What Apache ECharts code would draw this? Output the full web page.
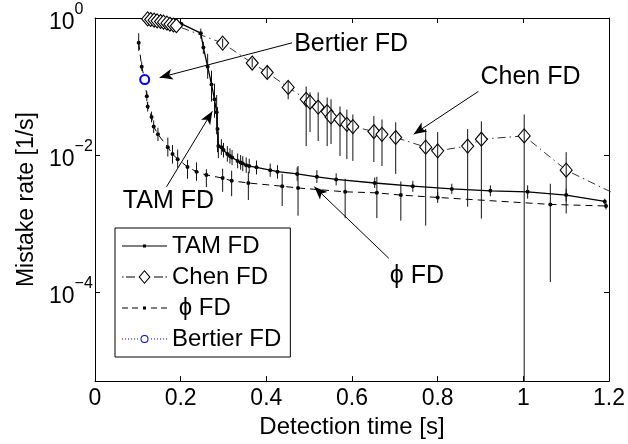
<!DOCTYPE html>
<html>
<head>
<meta charset="utf-8">
<script src="https://cdn.jsdelivr.net/npm/echarts@6.0.0/dist/echarts.min.js"></script>
<style>
  html, body { margin: 0; padding: 0; background: #fff; }
  #chart { width: 628px; height: 444px; }
</style>
</head>
<body>
<div id="chart"></div>
<script>
var FONT = 'Liberation Sans, Arial, sans-serif';
var yMin = 5e-6, yMax = 1;
var yTicks = [1e-4, 1e-2, 1];

// TAM FD: detection time, mistake rate, error bar low / high
var tamX  = [0.202, 0.247, 0.253, 0.263, 0.272, 0.279, 0.284, 0.286, 0.288, 0.295, 0.300, 0.309, 0.315, 0.320, 0.333, 0.340, 0.345, 0.353, 0.360, 0.377, 0.409, 0.426, 0.472, 0.518, 0.563, 0.653, 0.742, 0.833, 0.923, 1.010, 1.100, 1.190];
var tamY  = [0.82, 0.60, 0.37, 0.195, 0.107, 0.065, 0.042, 0.024, 0.0135, 0.013, 0.0118, 0.0103, 0.0097, 0.0092, 0.0082, 0.0078, 0.0075, 0.0071, 0.0069, 0.0066, 0.0060, 0.0057, 0.0053, 0.0048, 0.0044, 0.0039, 0.0035, 0.0032, 0.0030, 0.0029, 0.0026, 0.0021];
var tamLo = [null, 0.50, 0.30, 0.13, 0.06, 0.035, 0.020, 0.011, 0.009, 0.010, 0.0092, 0.0080, 0.0075, 0.0071, 0.0064, 0.0061, 0.0058, 0.0055, 0.0054, 0.0052, 0.0048, 0.0045, 0.0042, 0.0039, 0.0036, 0.0033, 0.0029, 0.0027, 0.0025, 0.0023, 0.0021, 0.0019];
var tamHi = [null, 0.70, 0.45, 0.30, 0.17, 0.11, 0.075, 0.050, 0.022, 0.017, 0.0150, 0.0135, 0.0125, 0.0118, 0.0105, 0.0100, 0.0096, 0.0092, 0.0088, 0.0083, 0.0075, 0.0071, 0.0066, 0.0060, 0.0054, 0.0047, 0.0042, 0.0038, 0.0036, 0.0036, 0.0032, 0.0023];

// Chen FD
var chenX  = [0.123, 0.130, 0.138, 0.145, 0.153, 0.160, 0.168, 0.175, 0.183, 0.190, 0.298, 0.367, 0.402, 0.451, 0.493, 0.502, 0.521, 0.542, 0.551, 0.572, 0.588, 0.602, 0.651, 0.670, 0.702, 0.772, 0.800, 0.870, 0.902, 1.002, 1.100, 1.250];
var chenY  = [0.97, 0.95, 0.93, 0.91, 0.89, 0.87, 0.84, 0.81, 0.79, 0.77, 0.43, 0.22, 0.16, 0.097, 0.065, 0.059, 0.050, 0.043, 0.036, 0.033, 0.028, 0.026, 0.022, 0.020, 0.018, 0.013, 0.0115, 0.0135, 0.017, 0.019, 0.006, 0.0021];
var chenLo = [null, null, null, null, null, null, null, null, null, null, 0.37, 0.19, 0.13, 0.065, 0.0135, 0.0216, 0.016, 0.0135, 0.0145, 0.0097, 0.0087, 0.0082, 0.0079, 0.0069, 0.0053, 0.00093, 0.0022, 0.00176, 0.00118, 1e-9, 0.0014, null];
var chenHi = [null, null, null, null, null, null, null, null, null, null, 0.50, 0.26, 0.20, 0.12, 0.10, 0.082, 0.082, 0.069, 0.065, 0.051, 0.046, 0.039, 0.037, 0.033, 0.030, 0.024, 0.0216, 0.024, 0.031, 0.039, 0.011, null];

// phi FD
var phiX  = [0.102, 0.109, 0.116, 0.121, 0.123, 0.132, 0.137, 0.147, 0.170, 0.181, 0.193, 0.216, 0.237, 0.260, 0.298, 0.319, 0.358, 0.437, 0.474, 0.584, 0.658, 0.714, 0.800, 1.063, 1.193];
var phiY  = [0.435, 0.195, 0.126, 0.072, 0.051, 0.036, 0.026, 0.020, 0.013, 0.0103, 0.0087, 0.0067, 0.0057, 0.0051, 0.0046, 0.0042, 0.0039, 0.0035, 0.0033, 0.0029, 0.0028, 0.0026, 0.0024, 0.0019, 0.0018];
var phiLo = [0.33, 0.17, 0.11, 0.061, 0.043, 0.030, 0.021, 0.016, 0.0095, 0.0075, 0.0065, 0.0045, 0.0042, 0.0034, 0.0029, 0.0025, 0.0022, 0.0018, 0.0013, 0.0012, 0.0012, 0.0011, 0.0020, 0.00014, 0.0016];
var phiHi = [0.60, 0.23, 0.145, 0.085, 0.060, 0.043, 0.032, 0.025, 0.018, 0.014, 0.012, 0.0085, 0.0078, 0.0062, 0.0063, 0.0059, 0.0057, 0.0053, 0.0069, 0.0045, 0.0048, 0.0041, 0.0029, 0.0038, 0.0020];

// Bertier FD (single point)
var bertierX = [0.116];
var bertierY = [0.126];

// text annotations and their arrows (data coordinates)
var noteNames  = ['Bertier FD', 'Chen FD', 'TAM FD', 'ϕ FD'];
var noteAt     = [[0.465, 0.42], [0.900, 0.135], [0.065, 0.00215], [0.688, 1.7e-4]];
var arrowFrom  = [[0.460, 0.434], [0.895, 0.0847], [0.167, 0.00344], [0.686, 3.1e-4]];
var arrowTo    = [[0.151, 0.135], [0.744, 0.0201], [0.274, 0.0434], [0.512, 0.00344]];

function zip(a, b) {
    var out = [];
    for (var i = 0; i < a.length; i++) out.push([a[i], b[i]]);
    return out;
}
function errData(xs, lo, hi) {
    var out = [];
    for (var i = 0; i < xs.length; i++) {
        if (lo[i] != null) out.push([xs[i], lo[i], hi[i]]);
    }
    return out;
}
// plain vertical error bar, no caps
function renderErr(params, api) {
    var x = api.value(0);
    var lo = Math.max(api.value(1), yMin);
    var hi = Math.min(api.value(2), yMax);
    var p1 = api.coord([x, hi]);
    var p2 = api.coord([x, lo]);
    return {
        type: 'line',
        shape: { x1: p1[0], y1: p1[1], x2: p2[0], y2: p2[1] },
        style: { stroke: '#111', lineWidth: 1 }
    };
}
function errSeries(name, data) {
    return {
        name: name,
        type: 'custom',
        renderItem: renderErr,
        data: data,
        encode: { x: 0, y: [1, 2] },
        clip: true,
        silent: true,
        z: 3
    };
}

// legend icons (45 x 14 box)
function rect(x, y, w, h) {
    return 'M' + x + ' ' + y + 'h' + w + 'v' + h + 'h' + (-w) + 'Z';
}
var iconTam = 'path://' + rect(0, 6.4, 45, 1.2) + rect(21, 5.5, 3, 3);
var iconPhi = 'path://' + rect(0, 6.5, 6, 1) + rect(10, 6.5, 6, 1) + rect(21, 5.5, 3, 3) + rect(29, 6.5, 6, 1) + rect(39, 6.5, 6, 1);
var iconChen = 'path://' + rect(0, 6.5, 1.5, 1) + rect(4, 6.5, 9, 1) +
    'M22.5 0L28.5 7L22.5 14L16.5 7Z' + 'M22.5 1.6L17.9 7L22.5 12.4L27.1 7Z' +
    rect(32, 6.5, 9, 1) + rect(43.5, 6.5, 1.5, 1);
var iconBertier = 'path://';
for (var d = 0; d <= 15; d += 3) iconBertier += rect(d, 6.5, 1, 1);
iconBertier += 'M18.5 7a4 4 0 1 0 8 0a4 4 0 1 0 -8 0Z' + 'M19.5 7a3 3 0 1 1 6 0a3 3 0 1 1 -6 0Z';
for (var d2 = 29; d2 <= 44; d2 += 3) iconBertier += rect(d2, 6.5, 1, 1);

var chart = echarts.init(document.getElementById('chart'));

var notes = [];
var arrows = [];
for (var k = 0; k < noteNames.length; k++) {
    notes.push({ name: noteNames[k], coord: noteAt[k] });
    arrows.push([
        { coord: arrowFrom[k], symbol: 'none' },
        { coord: arrowTo[k], symbol: 'arrow', symbolSize: [8, 13] }
    ]);
}

var option = {
    animation: false,
    backgroundColor: '#fff',
    textStyle: { fontFamily: FONT },
    grid: { left: 95, right: 17, top: 18, bottom: 60, containLabel: false },
    legend: {
        orient: 'vertical',
        left: 115,
        top: 228,
        padding: [6, 9, 6, 7],
        itemGap: 7,
        itemWidth: 45,
        itemHeight: 14,
        selectedMode: false,
        backgroundColor: '#fff',
        borderColor: '#000',
        borderWidth: 1,
        textStyle: { fontSize: 24, color: '#000', fontFamily: FONT },
        formatter: function (name) { return name === 'ϕ FD' ? ' ϕ FD' : name; },
        data: [
            { name: 'TAM FD', icon: iconTam, itemStyle: { color: '#000', borderWidth: 0 } },
            { name: 'Chen FD', icon: iconChen, itemStyle: { color: '#000', borderWidth: 0 } },
            { name: 'ϕ FD', icon: iconPhi, itemStyle: { color: '#000', borderWidth: 0 } },
            { name: 'Bertier FD', icon: iconBertier, itemStyle: { color: '#0000ff', borderWidth: 0 } }
        ]
    },
    xAxis: [{
        type: 'value',
        min: 0,
        max: 1.2,
        interval: 0.2,
        position: 'bottom',
        name: 'Detection time [s]',
        nameLocation: 'middle',
        nameGap: 28,
        nameTextStyle: { fontSize: 24, color: '#000', fontFamily: FONT },
        axisLine: { onZero: false, lineStyle: { color: '#000', width: 1 } },
        axisTick: { inside: true, length: 5, lineStyle: { color: '#000' } },
        axisLabel: { fontSize: 23, color: '#000', margin: 6, fontFamily: FONT },
        splitLine: { show: false }
    }, {
        type: 'value',
        min: 0,
        max: 1.2,
        interval: 0.2,
        position: 'top',
        axisLine: { onZero: false, lineStyle: { color: '#000', width: 1 } },
        axisTick: { inside: true, length: 5, lineStyle: { color: '#000' } },
        axisLabel: { show: false },
        splitLine: { show: false }
    }],
    yAxis: [{
        type: 'log',
        logBase: 10,
        min: yMin,
        max: yMax,
        position: 'left',
        name: 'Mistake rate [1/s]',
        nameLocation: 'middle',
        nameGap: 48,
        nameTextStyle: { fontSize: 23, color: '#000', fontFamily: FONT },
        axisLine: { onZero: false, lineStyle: { color: '#000', width: 1 } },
        axisTick: { inside: true, length: 5, customValues: yTicks, lineStyle: { color: '#000' } },
        axisLabel: {
            customValues: yTicks,
            align: 'left',
            margin: 46,
            formatter: function (v) {
                var e = Math.round(Math.log(v) / Math.LN10);
                return '{b|10}{s|' + (e < 0 ? '\u2212' + (-e) : e) + '}';
            },
            rich: {
                b: { fontSize: 23, color: '#000', fontFamily: FONT, lineHeight: 32, verticalAlign: 'bottom' },
                s: { fontSize: 16, color: '#000', fontFamily: FONT, lineHeight: 16, verticalAlign: 'top' }
            }
        },
        splitLine: { show: false },
        minorTick: { show: false }
    }, {
        type: 'log',
        logBase: 10,
        min: yMin,
        max: yMax,
        position: 'right',
        axisLine: { onZero: false, lineStyle: { color: '#000', width: 1 } },
        axisTick: { inside: true, length: 5, customValues: yTicks, lineStyle: { color: '#000' } },
        axisLabel: { show: false },
        splitLine: { show: false }
    }],
    series: [
        {
            name: 'TAM FD',
            type: 'line',
            data: zip(tamX, tamY),
            symbol: 'circle',
            symbolSize: 4,
            itemStyle: { color: '#000' },
            lineStyle: { color: '#000', width: 1.3 },
            z: 2
        },
        {
            name: 'Chen FD',
            type: 'line',
            data: zip(chenX, chenY),
            symbol: 'diamond',
            symbolSize: [12, 14],
            itemStyle: { color: '#fff', borderColor: '#000', borderWidth: 1.1 },
            lineStyle: { color: '#333', width: 1, type: [8, 4, 1.5, 4] },
            z: 2
        },
        {
            name: 'ϕ FD',
            type: 'line',
            data: zip(phiX, phiY),
            symbol: 'circle',
            symbolSize: 4,
            itemStyle: { color: '#000' },
            lineStyle: { color: '#000', width: 1, type: [7, 5] },
            z: 2
        },
        {
            name: 'Bertier FD',
            type: 'line',
            data: zip(bertierX, bertierY),
            symbol: 'emptyCircle',
            symbolSize: 9,
            itemStyle: { color: '#0000ff', borderWidth: 1 },
            lineStyle: { color: '#0000ff', width: 1, type: 'dotted' },
            z: 4
        },
        errSeries('tamErr', errData(tamX, tamLo, tamHi)),
        errSeries('chenErr', errData(chenX, chenLo, chenHi)),
        errSeries('phiErr', errData(phiX, phiLo, phiHi)),
        {
            name: 'notes',
            type: 'line',
            data: [],
            silent: true,
            z: 5,
            markLine: {
                silent: true,
                label: { show: false },
                itemStyle: { color: '#000' },
                lineStyle: { color: '#000', width: 1, type: 'solid' },
                emphasis: { disabled: true },
                data: arrows
            },
            markPoint: {
                silent: true,
                symbol: 'circle',
                symbolSize: 0,
                label: {
                    show: true,
                    position: 'right',
                    distance: 0,
                    formatter: function (p) { return p.name; },
                    fontSize: 25,
                    color: '#000',
                    fontFamily: FONT
                },
                data: notes
            }
        }
    ]
};
chart.setOption(option);
</script>
</body>
</html>
